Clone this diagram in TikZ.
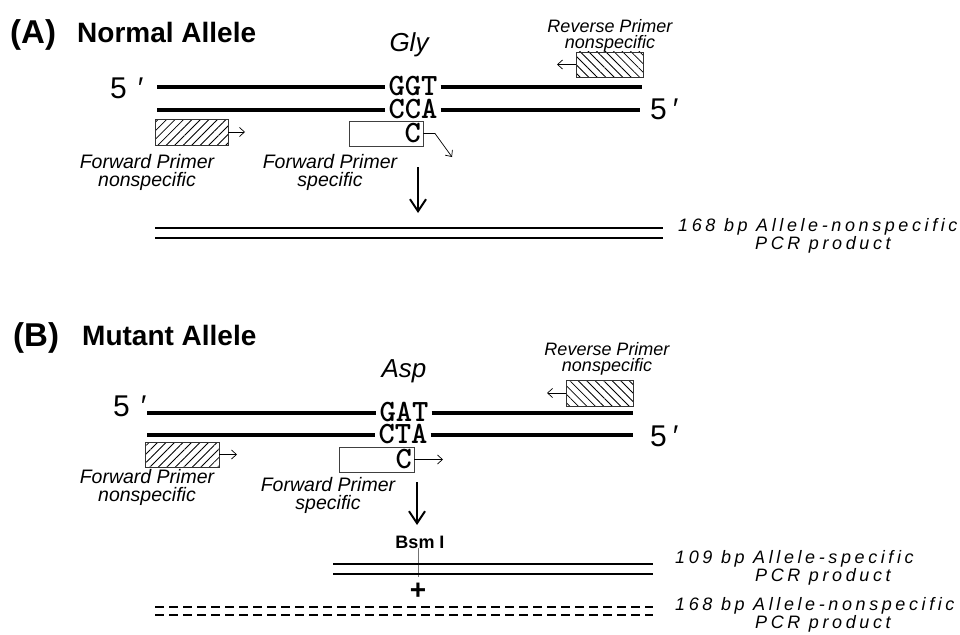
\documentclass[tikz,border=0pt]{standalone}
\usepackage{fontspec}
\setmainfont{Liberation Sans}
\newfontfamily\spacedfont{Liberation Sans}[LetterSpace=20]
\usetikzlibrary{arrows.meta,patterns.meta}
\begin{document}
\begin{tikzpicture}[x=1pt,y=-1pt,
  strand/.style={line width=4.5pt},
  seq/.style={font=\ttfamily\bfseries\fontsize{31}{31}\selectfont, inner xsep=3pt, inner ysep=0pt, text height=17pt, text depth=0pt},
  five/.style={font=\fontsize{30}{30}\selectfont, inner sep=0pt},
  ttl/.style={font=\bfseries\fontsize{28}{28}\selectfont, inner sep=0pt, anchor=base west},
  ttlb/.style={font=\bfseries\fontsize{33}{33}\selectfont, inner sep=0pt, anchor=base west},
  aa/.style={font=\itshape\fontsize{26}{26}\selectfont, inner sep=0pt, anchor=base},
  plabel/.style={font=\itshape\fontsize{19.5}{18.5}\selectfont, align=center, inner sep=0pt, anchor=north},
  rlabel/.style={font=\itshape\fontsize{18}{16.5}\selectfont, align=center, inner sep=0pt, anchor=north},
  hatchF/.style={draw=black!80, line width=0.8pt, inner sep=0pt, pattern={Lines[angle=45,distance=6pt,line width=0.8pt]}},
  hatchR/.style={draw=black!80, line width=0.8pt, inner sep=0pt, pattern={Lines[angle=-45,distance=6pt,line width=0.8pt]}},
  sbox/.style={draw=black!75, line width=0.8pt, inner sep=0pt},
  thinarrow/.style={line width=0.7pt, -{Straight Barb[length=5pt,width=9pt,line width=0.7pt]}},
  bigarrow/.style={line width=2pt, -{Straight Barb[length=12pt,width=16pt,line width=2pt]}},
  product/.style={line width=1.8pt},
  dproduct/.style={line width=2pt, dash pattern=on 9pt off 5pt},
  prodlabel/.style={font=\spacedfont\itshape\fontsize{18}{18.5}\selectfont, align=left, inner sep=0pt, anchor=north west}
]
\useasboundingbox (0,0) rectangle (960,634);
\fill[white] (0,0) rectangle (960,634);

% ---------------- (A) ----------------
\node[ttlb] (tA) at (10,44) {(A)};
\node[ttl] (nA) at (77,43) {Normal Allele};
\node[aa] (gly) at (409,52) {Gly};

\node[seq] (ggt) at (413,87) {GGT};
\node[seq] (cca) at (413,110) {CCA};
\coordinate (tAl) at (157,87);
\coordinate (tAr) at (642,87);
\coordinate (bAl) at (157,110);
\coordinate (bAr) at (640,110);
\draw[strand] (tAl) -- (ggt.west);
\draw[strand] (ggt.east) -- (tAr);
\draw[strand] (bAl) -- (cca.west);
\draw[strand] (cca.east) -- (bAr);
\node[five, anchor=west] (fA1) at (110,88) {5\hspace{11pt}′};
\node[five, anchor=west] (fA2) at (650,109) {5\hspace{6pt}′};

\node[hatchF, minimum width=73pt, minimum height=26pt] (fnA) at (191.5,132) {};
\coordinate (fnAt) at (245,132);
\draw[thinarrow] (fnA.east) -- (fnAt);

\node[sbox, minimum width=74pt, minimum height=25pt] (fsA) at (386,133.5) {};
\node[seq, anchor=east, inner xsep=0pt] (cA) at (421,133.5) {C};
\coordinate (fsAk) at (435,133.5);
\coordinate (fsAt) at (452,157);
\draw[thinarrow] (fsA.east) -- (fsAk) -- (fsAt);

\node[hatchR, minimum width=67pt, minimum height=25pt] (rnA) at (609.5,64.5) {};
\coordinate (rnAt) at (557,64.5);
\draw[thinarrow] (rnA.west) -- (rnAt);

\node[plabel] (lfnA) at (147,154) {Forward Primer\\nonspecific};
\node[plabel] (lfsA) at (330,154) {Forward Primer\\specific};
\node[rlabel] (lrnA) at (610,19) {Reverse Primer\\nonspecific};

\coordinate (aA1) at (418,167);
\coordinate (aA2) at (418,213);
\draw[bigarrow] (aA1) -- (aA2);

\coordinate (pA1l) at (155,228); \coordinate (pA1r) at (663,228);
\coordinate (pA2l) at (155,238); \coordinate (pA2r) at (663,238);
\draw[product] (pA1l) -- (pA1r);
\draw[product] (pA2l) -- (pA2r);
\node[prodlabel] (plA) at (678,218) {168 bp Allele-nonspecific\\\hspace*{77pt}PCR product};

% ---------------- (B) ----------------
\node[ttlb] (tB) at (13,346) {(B)};
\node[ttl] (nB) at (82,345) {Mutant Allele};
\node[aa] (asp) at (404,377) {Asp};

\node[seq] (gat) at (404,413) {GAT};
\node[seq] (cta) at (403,435) {CTA};
\coordinate (tBl) at (147,413);
\coordinate (tBr) at (633,413);
\coordinate (bBl) at (147,435);
\coordinate (bBr) at (633,435);
\draw[strand] (tBl) -- (gat.west);
\draw[strand] (gat.east) -- (tBr);
\draw[strand] (bBl) -- (cta.west);
\draw[strand] (cta.east) -- (bBr);
\node[five, anchor=west] (fB1) at (113,406) {5\hspace{11pt}′};
\node[five, anchor=west] (fB2) at (650,436) {5\hspace{6pt}′};

\node[hatchF, minimum width=74pt, minimum height=25pt] (fnB) at (182,454.5) {};
\coordinate (fnBt) at (237,454.5);
\draw[thinarrow] (fnB.east) -- (fnBt);

\node[sbox, minimum width=75pt, minimum height=25pt] (fsB) at (376.5,459.5) {};
\node[seq, anchor=east, inner xsep=0pt] (cB) at (412,459.5) {C};
\coordinate (fsBt) at (443,459.5);
\draw[thinarrow] (fsB.east) -- (fsBt);

\node[hatchR, minimum width=67pt, minimum height=26pt] (rnB) at (599.5,393) {};
\coordinate (rnBt) at (547,393);
\draw[thinarrow] (rnB.west) -- (rnBt);

\node[plabel] (lfnB) at (147,469) {Forward Primer\\nonspecific};
\node[plabel] (lfsB) at (328,477) {Forward Primer\\specific};
\node[rlabel] (lrnB) at (607,342) {Reverse Primer\\nonspecific};

\coordinate (aB1) at (417,482);
\coordinate (aB2) at (417,525);
\draw[bigarrow] (aB1) -- (aB2);

\node[font=\bfseries\fontsize{18}{18}\selectfont, anchor=base, inner sep=0pt] (bsm) at (420,548) {Bsm I};
\coordinate (bsmE) at (418,577);
\draw[black!55, line width=1pt] (bsm.south -| bsmE) -- (bsmE);

\coordinate (pB1l) at (333,564); \coordinate (pB1r) at (653,564);
\coordinate (pB2l) at (333,574); \coordinate (pB2r) at (653,574);
\draw[product] (pB1l) -- (pB1r);
\draw[product] (pB2l) -- (pB2r);
\node[font=\bfseries\fontsize{28}{28}\selectfont, inner sep=0pt] (plus) at (418,591) {+};

\coordinate (dB1l) at (155,607); \coordinate (dB1r) at (653,607);
\coordinate (dB2l) at (155,615); \coordinate (dB2r) at (653,615);
\draw[dproduct] (dB1l) -- (dB1r);
\draw[dproduct] (dB2l) -- (dB2r);

\node[prodlabel] (plB1) at (675,550) {109 bp Allele-specific\\\hspace*{80pt}PCR product};
\node[prodlabel] (plB2) at (675,597) {168 bp Allele-nonspecific\\\hspace*{80pt}PCR product};
\end{tikzpicture}
\end{document}
